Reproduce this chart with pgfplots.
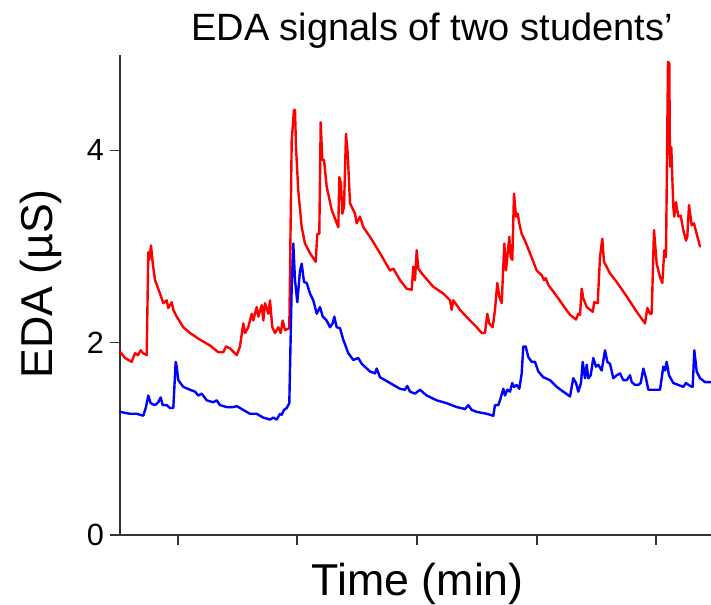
\documentclass[border=0pt]{standalone}
\usepackage{fontspec}
\setmainfont{Liberation Sans}
\usepackage{pgfplots}
\pgfplotsset{compat=1.18}
\begin{document}
\begin{tikzpicture}
\useasboundingbox (-90pt,-51.75pt) rectangle (443.25pt,401.25pt);
\begin{axis}[
  at={(0,0)}, anchor=south west,
  scale only axis, width=443.25pt, height=360pt,
  xmin=0, xmax=591, ymin=0, ymax=4.99,
  axis x line=bottom, axis y line=left,
  axis line style={-, line width=1.1pt, color=black!80},
  tick style={line width=1pt, color=black!80},
  tick align=outside, major tick length=7.5pt,
  xtick={58,177,297,417,536}, xticklabels={},
  ytick={0,2,4},
  /pgf/number format/assume math mode=true,
  yticklabel style={font=\fontsize{23}{23}\selectfont, xshift=-1pt},
  clip=false,
  every axis plot/.append style={line join=round, line cap=round},
]
\addplot[red, line width=1.8pt] coordinates {
(0,1.905) (5,1.84) (11.7,1.80) (15,1.89) (18,1.87) (20.7,1.92) (23,1.89) (26.7,1.87)
(28.3,2.94) (29.3,2.86) (31,3.01) (32.7,2.83) (35,2.65) (40,2.51) (43.3,2.41) (46.7,2.44)
(48.3,2.36) (51.7,2.42) (53.3,2.34) (56.7,2.27) (63.3,2.16) (70,2.10) (80,2.03) (90,1.97)
(98.3,1.90) (103.3,1.90) (106,1.96) (110,1.94) (116.7,1.87) (120,1.96) (123.3,2.20) (125,2.10)
(128.3,2.16) (131.7,2.30) (133.3,2.23) (136.7,2.37) (138.3,2.27) (141.7,2.39) (143.3,2.23)
(145,2.41) (148.3,2.30) (150,2.44) (152.3,2.16) (155,2.10) (158.3,2.16) (160.7,2.10)
(162.7,2.23) (165,2.13) (169.3,2.15) (171.7,4.10) (174,4.42) (175,4.42) (176,4.03)
(178.3,3.58) (181.7,3.20) (185,3.03) (190,2.93) (195.7,2.84) (197.3,3.13) (199.3,3.13)
(200.7,4.29) (202.3,3.90) (204,3.90) (206.7,3.62) (211.7,3.38) (218.3,3.20) (219.3,3.72)
(221,3.65) (222.3,3.34) (224,3.41) (226,4.17) (227.7,3.97) (230,3.45) (235,3.34) (236.7,3.24)
(240,3.31) (243.3,3.20) (250,3.10) (260,2.93) (270,2.75) (273.3,2.77) (280,2.65) (286.7,2.56)
(291.7,2.55) (293.3,2.79) (295,2.65) (296.7,2.96) (298.3,2.77) (303.3,2.70) (313.3,2.58)
(323.3,2.51) (330,2.44) (331.7,2.34) (333.3,2.44) (340,2.34) (350,2.23) (356.7,2.16)
(361.7,2.10) (365,2.10) (367.3,2.30) (369.3,2.20) (372.7,2.16) (375,2.34) (377.3,2.62)
(379.3,2.48) (381.7,2.41) (384.3,3.03) (386,2.75) (387.3,2.89) (389.3,3.10) (390.7,2.89)
(392.3,2.86) (394,3.55) (396,3.31) (397.7,3.34) (399.3,3.24) (401.7,3.13) (405,3.06)
(410,2.93) (416.7,2.75) (421.7,2.70) (424,2.65) (425.7,2.67) (428.3,2.60) (433.3,2.53)
(438.3,2.46) (445,2.36) (450,2.29) (456,2.24) (458.3,2.30) (460,2.29) (461.7,2.56)
(463.3,2.46) (466.7,2.37) (472.7,2.32) (474.3,2.42) (477.7,2.41) (480,2.89) (482.3,3.08)
(484,2.84) (490,2.72) (496.7,2.63) (506.7,2.48) (516.7,2.32) (525,2.20) (527.3,2.36)
(530,2.30) (531.7,2.30) (534,3.17) (536.7,2.82) (540,2.68) (542.3,2.62) (544.3,2.96)
(546,2.89) (548,4.92) (549.3,4.90) (550,3.83) (551.3,4.03) (553.3,3.41) (554.3,3.31)
(556,3.46) (558.3,3.31) (560.7,3.32) (563.3,3.17) (566,3.06) (567.3,3.10) (569,3.43)
(571.7,3.22) (574,3.24) (576.7,3.13) (580,3.00)
};
\addplot[blue, line width=1.8pt] coordinates {
(0,1.28) (10,1.26) (16.7,1.26) (23.3,1.24) (26,1.33) (28.3,1.45) (30.7,1.37) (35,1.35)
(38.3,1.38) (40.7,1.43) (42.7,1.35) (46.7,1.35) (50,1.32) (53.3,1.32) (55.7,1.80) (56.7,1.75)
(58.3,1.61) (63.3,1.54) (70,1.51) (75,1.49) (78.3,1.45) (81.7,1.47) (86.7,1.40) (93.3,1.38)
(96.7,1.40) (100,1.35) (106.7,1.33) (113.3,1.33) (116.7,1.34) (123.3,1.30) (130,1.26)
(136.7,1.26) (143.3,1.22) (150,1.20) (153.3,1.22) (156.7,1.20) (160,1.26) (161.7,1.25)
(164,1.30) (166.7,1.32) (168.3,1.35) (169.3,1.37) (171.7,2.58) (173.3,3.03) (175,2.65)
(177.3,2.42) (180,2.75) (181.7,2.82) (184,2.63) (186.7,2.62) (190,2.51) (193.3,2.44)
(196.7,2.30) (200,2.37) (202.7,2.27) (206.7,2.23) (210,2.16) (212.7,2.20) (214.3,2.27)
(216.7,2.16) (220,2.15) (223.3,2.03) (228.3,1.89) (233.3,1.82) (238.3,1.84) (241.7,1.78)
(250,1.70) (255,1.68) (256.7,1.73) (260,1.64) (270,1.58) (280,1.52) (285,1.51) (287.3,1.55)
(290,1.49) (295,1.47) (300,1.51) (306.7,1.45) (316.7,1.40) (326.7,1.37) (336.7,1.33)
(345,1.31) (348.3,1.35) (351.7,1.30) (356.7,1.28) (366.7,1.26) (373.3,1.24) (375,1.35)
(378.3,1.35) (380,1.40) (383.3,1.52) (385,1.45) (387.3,1.51) (390,1.49) (392.3,1.58)
(394,1.54) (396.7,1.56) (399.3,1.52) (401.7,1.68) (403.3,1.96) (405.7,1.96) (408.3,1.85)
(411.7,1.80) (415,1.80) (418.3,1.70) (423.3,1.64) (430,1.61) (436.7,1.54) (443.3,1.49)
(450,1.44) (453.3,1.63) (456,1.58) (458.3,1.49) (461,1.58) (462.7,1.80) (465,1.63)
(466.7,1.77) (468.3,1.63) (470.7,1.66) (473.3,1.84) (476,1.75) (478.3,1.77) (481.7,1.71)
(485,1.92) (487.3,1.80) (490,1.78) (493.3,1.63) (496.7,1.66) (500,1.68) (503.3,1.61)
(506.7,1.61) (510,1.66) (511.7,1.59) (515,1.56) (518.3,1.56) (520.7,1.58) (523.3,1.73)
(526,1.63) (528.3,1.51) (531.7,1.51) (540,1.51) (543.3,1.75) (545,1.71) (546.7,1.80)
(549,1.66) (553.3,1.58) (558.3,1.56) (563.3,1.54) (566,1.58) (570,1.55) (572.7,1.54)
(574.3,1.92) (576.7,1.70) (580,1.63) (585,1.59) (591,1.59)
};
\node[anchor=base, font=\fontsize{28.5}{28.5}\selectfont] at (rel axis cs:0.528,1.031) {EDA signals of two students’};
\node[anchor=base, font=\fontsize{33.5}{33.5}\selectfont] at (rel axis cs:0.504,-0.125) {Time (min)};
\node[anchor=base, rotate=90, font=\fontsize{33.5}{33.5}\selectfont] at (rel axis cs:-0.115,0.523) {EDA (µS)};
\end{axis}
\end{tikzpicture}
\end{document}
